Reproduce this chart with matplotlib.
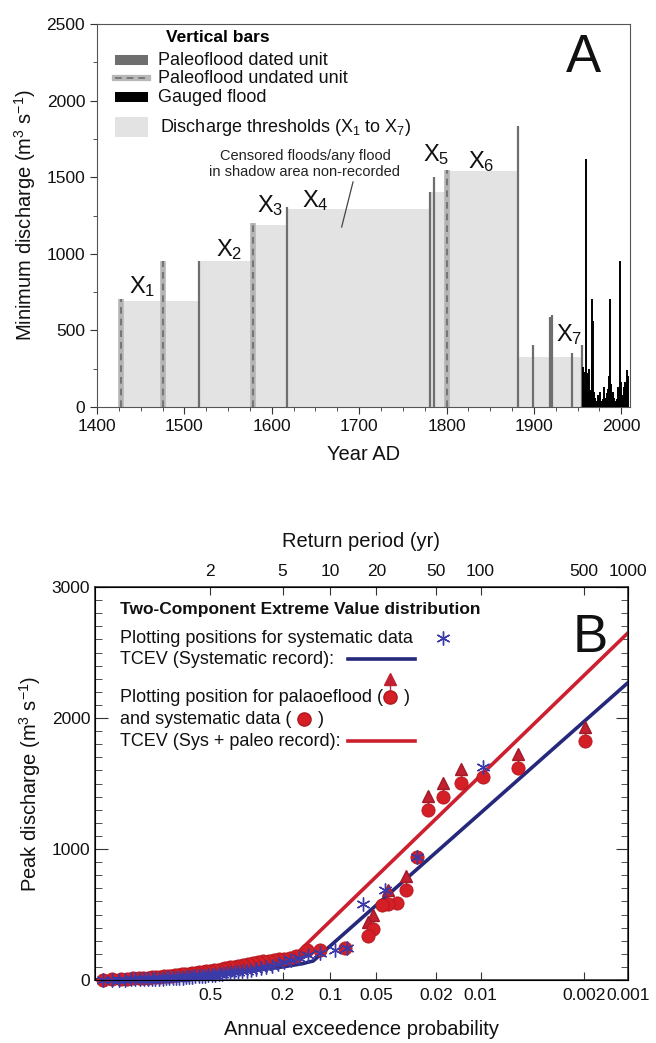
import numpy as np
import matplotlib
matplotlib.use("Agg")
import matplotlib.pyplot as plt
from matplotlib.patches import Rectangle
from matplotlib.ticker import MultipleLocator, FixedLocator, NullLocator

plt.rcParams['font.family'] = ['Liberation Sans', 'DejaVu Sans']
plt.rcParams['mathtext.fontset'] = 'custom'
plt.rcParams['mathtext.rm'] = 'Liberation Sans'
plt.rcParams['mathtext.it'] = 'Liberation Sans:italic'
plt.rcParams['mathtext.bf'] = 'Liberation Sans:bold'
plt.rcParams['mathtext.default'] = 'rm'

# ---------------- panel A data ----------------
# paleoflood units with a date (solid grey bars)
dated_year = [1517, 1617, 1781, 1786, 1882, 1899, 1918, 1921, 1944, 1955]
dated_q = [955, 1305, 1405, 1503, 1834, 405, 585, 600, 355, 405]
# undated units (dashed bars)
undated_year = [1427, 1475, 1579, 1800]
undated_q = [703, 953, 1203, 1547]
# gauged annual floods
gauged_year = [1956, 1957, 1958, 1959, 1960, 1961, 1962, 1963, 1964, 1965,
               1966, 1967, 1968, 1969, 1970, 1971, 1972, 1973, 1974, 1975,
               1976, 1977, 1978, 1979, 1980, 1981, 1982, 1983, 1984, 1985,
               1986, 1987, 1988, 1989, 1990, 1991, 1992, 1993, 1994, 1995,
               1996, 1997, 1998, 1999, 2000, 2001, 2002, 2003, 2004, 2005,
               2006, 2007, 2008]
gauged_q = [260, 230, 120, 150, 1620, 220, 180, 250, 110, 90,
            280, 705, 560, 100, 60, 40, 30, 80, 60, 20,
            100, 40, 30, 50, 130, 30, 60, 40, 90, 120,
            200, 705, 150, 70, 40, 100, 60, 30, 40, 50,
            130, 120, 950, 90, 160, 80, 60, 130, 160, 110,
            240, 160, 200]
# discharge thresholds X1..X7
thr_start = [1427, 1517, 1579, 1617, 1782, 1800, 1882]
thr_end = [1517, 1579, 1617, 1782, 1800, 1882, 1956]
thr_q = [692, 953, 1190, 1290, 1405, 1540, 328]
thr_names = ["X$_1$", "X$_2$", "X$_3$", "X$_4$", "X$_5$", "X$_6$", "X$_7$"]
thr_label_year = [1452, 1551, 1598, 1650, 1788, 1840, 1940]
thr_label_q = [785, 1025, 1318, 1350, 1645, 1601, 470]

# ---------------- panel B data ----------------
sys_p = [0.0096, 0.0268, 0.0438, 0.0613, 0.078, 0.0934, 0.117,
         0.14, 0.158, 0.177, 0.195, 0.214, 0.232, 0.251, 0.269, 0.288, 0.306,
         0.324, 0.343, 0.361, 0.380, 0.398, 0.417, 0.435, 0.453, 0.472, 0.490,
         0.509, 0.527, 0.546, 0.564, 0.583, 0.601, 0.619, 0.638, 0.656, 0.675,
         0.693, 0.712, 0.730, 0.748, 0.767, 0.785, 0.804, 0.822, 0.841, 0.859,
         0.876, 0.893, 0.910, 0.927, 0.944, 0.960, 0.976]
sys_q = [1626, 940, 687, 580, 244, 229, 206,
         190, 165, 150, 135, 120, 110, 100, 92, 85, 78,
         72, 66, 62, 58, 54, 50, 47, 44, 41, 38,
         35, 33, 31, 29, 27, 25, 23, 21, 19, 18,
         16, 15, 13, 12, 11, 10, 9, 8, 7, 6,
         5, 4, 4, 3, 2, 2, 1]

paleo_p = [0.00196, 0.00558, 0.0096, 0.01355, 0.0179, 0.0226, 0.0268, 0.0317,
           0.0365, 0.0419, 0.0459, 0.0527, 0.0568, 0.0804, 0.117, 0.141,
           0.165, 0.18, 0.195, 0.21, 0.225, 0.24, 0.26, 0.28, 0.30, 0.32,
           0.34, 0.36, 0.38, 0.40, 0.42, 0.44, 0.46, 0.48, 0.50, 0.52, 0.54,
           0.56, 0.58, 0.60, 0.62, 0.64, 0.66, 0.68, 0.70, 0.72, 0.74, 0.76,
           0.78, 0.80, 0.82, 0.84, 0.86, 0.88, 0.90, 0.92, 0.94, 0.96, 0.975]
paleo_q = [1825, 1618, 1550, 1504, 1397, 1298, 939, 687,
           588, 580, 573, 389, 336, 244, 229, 229,
           180, 170, 163, 158, 153, 148, 142, 136, 130, 122,
           115, 108, 102, 96, 90, 85, 80, 75, 70, 66, 62,
           58, 55, 52, 48, 45, 42, 40, 37, 34, 31, 29,
           26, 24, 21, 19, 16, 14, 12, 9, 7, 4, 2]
# palaeofloods given as lower bounds (arrow up)
censored_p = [0.00196, 0.00558, 0.01355, 0.0179, 0.0226, 0.0317, 0.0419, 0.0527, 0.0568]
censored_q = [1825, 1618, 1504, 1397, 1298, 687, 580, 389, 336]

tcev_sys_p = [0.985, 0.9, 0.8, 0.7, 0.5, 0.4, 0.3, 0.2, 0.15, 0.14, 0.129, 0.001]
tcev_sys_q = [0, 8, 15, 22, 40, 52, 70, 100, 125, 135, 145, 2270]
tcev_pal_p = [0.985, 0.95, 0.9, 0.8, 0.7, 0.5, 0.4, 0.3, 0.2, 0.172, 0.001]
tcev_pal_q = [0, 8, 16, 30, 42, 68, 90, 115, 155, 176, 2650]

prob_ticks = [0.5, 0.2, 0.1, 0.05, 0.02, 0.01, 0.002, 0.001]
prob_labels = ["0.5", "0.2", "0.1", "0.05", "0.02", "0.01", "0.002", "0.001"]
return_periods = [2, 5, 10, 20, 50, 100, 500, 1000]


def gumbel(p):
    p = np.asarray(p, dtype=float)
    with np.errstate(all='ignore'):
        return -np.log(-np.log(1.0 - p))


def gumbel_inv(u):
    u = np.asarray(u, dtype=float)
    with np.errstate(all='ignore'):
        return 1.0 - np.exp(-np.exp(-u))


W, H = 656, 1043
fig = plt.figure(figsize=(W / 100, H / 100), dpi=100)

# ================= panel A =================
axA = fig.add_axes([97 / W, 1 - 407 / H, 533 / W, 383 / H])
axA.bar(thr_start, thr_q, width=np.array(thr_end) - np.array(thr_start),
        align='edge', color='#e3e3e3', linewidth=0, zorder=1)
axA.vlines(undated_year, 0, undated_q, color='#b4b4b4', lw=4, zorder=2)
axA.vlines(undated_year, 0, undated_q, color='#6a6a6a', lw=1.2,
           linestyles=(0, (4, 3)), zorder=3)
axA.vlines(dated_year, 0, dated_q, color='#6e6e6e', lw=1.6, zorder=3)
axA.vlines(gauged_year, 0, gauged_q, color='black', lw=1.4, zorder=4)

for name, yr, q in zip(thr_names, thr_label_year, thr_label_q):
    axA.text(yr, q, name, fontsize=17, ha='center', va='center', color='#111')

axA.text(1638, 1586, "Censored floods/any flood\nin shadow area non-recorded",
         fontsize=10.5, ha='center', va='center', color='#222', linespacing=1.1)
axA.plot([1693, 1680], [1469, 1175], color='#444', lw=0.9)

axA.set_xlim(1400, 2010)
axA.set_ylim(0, 2500)
axA.xaxis.set_major_locator(MultipleLocator(100))
axA.xaxis.set_minor_locator(MultipleLocator(25))
axA.yaxis.set_major_locator(MultipleLocator(500))
axA.yaxis.set_minor_locator(MultipleLocator(250))
axA.tick_params(which='both', direction='out', labelsize=12.5, colors='#333',
                labelcolor='#111')
axA.tick_params(which='major', length=5)
axA.tick_params(which='minor', length=3)
axA.set_xlabel("Year AD", fontsize=14.5, color='#111', labelpad=8)
axA.set_ylabel("Minimum discharge (m$^3$ s$^{-1}$)", fontsize=14.5,
               color='#111', labelpad=6)
for s in axA.spines.values():
    s.set_color('#555')

# legend of panel A
tA = axA.transAxes
axA.text(0.129, 0.966, "Vertical bars", transform=tA, fontsize=12.5,
         fontweight='bold', va='center')
axA.add_patch(Rectangle((0.034, 0.893), 0.062, 0.026, transform=tA,
                        color='#6e6e6e', lw=0))
axA.plot([0.034, 0.096], [0.859, 0.859], transform=tA, color='#b8b8b8', lw=4.5)
axA.plot([0.034, 0.096], [0.859, 0.859], transform=tA, color='#6e6e6e',
         lw=1.2, ls=(0, (4, 3)))
axA.add_patch(Rectangle((0.034, 0.796), 0.062, 0.026, transform=tA,
                        color='black', lw=0))
axA.add_patch(Rectangle((0.034, 0.705), 0.062, 0.052, transform=tA,
                        color='#e3e3e3', lw=0))
leg_txt = ["Paleoflood dated unit", "Paleoflood undated unit", "Gauged flood"]
for txt, yy in zip(leg_txt, [0.906, 0.859, 0.809]):
    axA.text(0.115, yy, txt, transform=tA, fontsize=13, va='center', color='#111')
axA.text(0.118, 0.731, "Discharge thresholds (X$_1$ to X$_7$)", transform=tA,
         fontsize=13, va='center', color='#111')
axA.text(0.912, 0.911, "A", transform=tA, fontsize=38, ha='center',
         va='center', color='#111')

# ================= panel B =================
axB = fig.add_axes([95 / W, 1 - 980 / H, 533 / W, 393 / H])
axB.set_xscale('function', functions=(gumbel, gumbel_inv))

red = '#d41f26'
navy = '#26287c'
star = '#3a3aa8'

axB.plot(tcev_sys_p, tcev_sys_q, color=navy, lw=2.6, zorder=3)
axB.plot(tcev_pal_p, tcev_pal_q, color='#cc2030', lw=2.6, zorder=2)

arrow_len = 110
for p, q in zip(censored_p, censored_q):
    axB.plot([p, p], [q, q + arrow_len], color='#b03040', lw=1.0, zorder=4)
axB.plot(censored_p, np.array(censored_q) + arrow_len, ls='none', marker='^',
         ms=8, color='#c02030', mec='#a01a28', zorder=5)
axB.plot(paleo_p, paleo_q, ls='none', marker='o', ms=9.5, color=red,
         mec='#b01820', mew=0.6, zorder=5, clip_on=False)
axB.plot(sys_p, sys_q, ls='none', marker=(6, 2, 0), ms=10, mec=star,
         mew=1.0, zorder=6, clip_on=False)

# the gumbel transform decreases with p, so the limits are given low -> high
axB.set_xlim(0.001, 0.985)
axB.set_ylim(0, 3000)
axB.xaxis.set_major_locator(FixedLocator(prob_ticks))
axB.xaxis.set_minor_locator(NullLocator())
axB.set_xticklabels(prob_labels)
axB.yaxis.set_major_locator(MultipleLocator(1000))
axB.yaxis.set_minor_locator(MultipleLocator(100))
axB.tick_params(which='both', direction='in', right=True, labelsize=12.5,
                colors='#333', labelcolor='#111')
axB.tick_params(axis='y', which='major', length=9)
axB.tick_params(axis='y', which='minor', length=5)
axB.tick_params(axis='x', which='major', length=6, pad=6)
axB.set_xlabel("Annual exceedence probability", fontsize=14.5, color='#111',
               labelpad=12)
axB.set_ylabel("Peak discharge (m$^3$ s$^{-1}$)", fontsize=14.5, color='#111',
               labelpad=6)
for s in axB.spines.values():
    s.set_color('#333')
    s.set_linewidth(1.2)

axT = axB.twiny()
axT.set_xscale('function', functions=(gumbel, gumbel_inv))
axT.set_xlim(axB.get_xlim())
axT.xaxis.set_major_locator(FixedLocator([1.0 / t for t in return_periods]))
axT.xaxis.set_minor_locator(NullLocator())
axT.set_xticklabels([str(t) for t in return_periods])
axT.tick_params(which='both', direction='in', length=6, labelsize=12.5,
                colors='#333', labelcolor='#111', pad=6)
axT.set_xlabel("Return period (yr)", fontsize=14.5, color='#111', labelpad=12)

# legend of panel B
tB = axB.transAxes
axB.text(0.047, 0.944, "Two-Component Extreme Value distribution", transform=tB,
         fontsize=12.5, fontweight='bold', va='center', color='#111')
axB.text(0.047, 0.870, "Plotting positions for systematic data", transform=tB,
         fontsize=13, va='center', color='#111')
axB.plot([0.653], [0.870], transform=tB, marker=(6, 2, 0), ms=10, mec=star, mew=1.0)
axB.text(0.047, 0.816, "TCEV (Systematic record):", transform=tB,
         fontsize=13, va='center', color='#111')
axB.plot([0.475, 0.600], [0.816, 0.816], transform=tB, color=navy, lw=2.6)
axB.text(0.047, 0.719, "Plotting position for palaoeflood (", transform=tB,
         fontsize=13, va='center', color='#111')
axB.plot([0.553, 0.553], [0.719, 0.765], transform=tB, color='#b03040', lw=1.0)
axB.plot([0.553], [0.765], transform=tB, marker='^', ms=8, color='#c02030')
axB.plot([0.553], [0.719], transform=tB, marker='o', ms=9.5, color=red, mec='#b01820')
axB.text(0.580, 0.719, ")", transform=tB, fontsize=13, va='center', color='#111')
axB.text(0.047, 0.663, "and systematic data (", transform=tB,
         fontsize=13, va='center', color='#111')
axB.plot([0.392], [0.663], transform=tB, marker='o', ms=9.5, color=red, mec='#b01820')
axB.text(0.418, 0.663, ")", transform=tB, fontsize=13, va='center', color='#111')
axB.text(0.047, 0.607, "TCEV (Sys + paleo record):", transform=tB,
         fontsize=13, va='center', color='#111')
axB.plot([0.475, 0.600], [0.607, 0.607], transform=tB, color='#cc2030', lw=2.6)
axB.text(0.929, 0.870, "B", transform=tB, fontsize=38, ha='center',
         va='center', color='#111')

fig.savefig("out.png", dpi=100)
